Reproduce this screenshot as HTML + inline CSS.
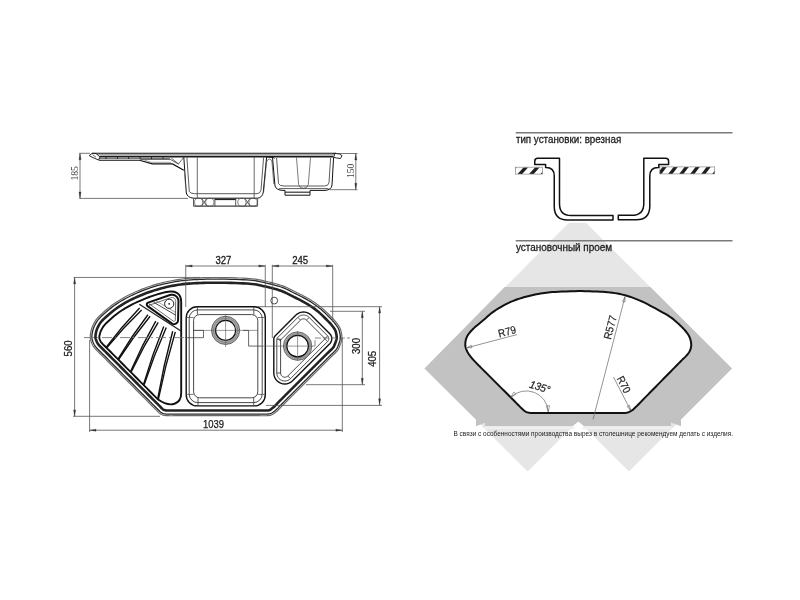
<!DOCTYPE html>
<html><head><meta charset="utf-8"><style>
html,body{margin:0;padding:0;background:#fff;width:800px;height:600px;overflow:hidden}
svg{display:block;filter:grayscale(1)}
</style></head><body>
<svg width="800" height="600" viewBox="0 0 800 600">
<rect width="800" height="600" fill="#fff"/>
<polygon points="569,222.8 586,222.8 732,368.5 629,471.6 578.3,421 527.6,471.6 424.5,368.5" fill="#e6e6e6" stroke="none" stroke-width="1" />
<polygon points="504.7,287.1 650.3,287.1 732,368.5 681,419.5 681,426.3 671,422.5 671,426.3 584.3,426.3 578.3,421.5 572.3,426.3 485,426.3 485,422.8 476,426.3 476,419.5 424.5,368.5" fill="#c2c2c2" stroke="none" stroke-width="1" />
<polygon points="485,426.3 572.3,426.3 575.3,429.3 581.3,429.3 584.3,426.3 671,426.3 671,429.3 485,429.3" fill="#f0f0f0" stroke="none" stroke-width="1" />
<path d="M578.5 291.1 L581.67 291.09 L584.57 291.13 L587.28 291.19 L589.87 291.29 L592.42 291.39 L595 291.5 L597.59 291.6 L600.11 291.69 L602.59 291.79 L605.06 291.93 L607.52 292.13 L610 292.4 L612.5 292.74 L615 293.13 L617.5 293.57 L620 294.08 L622.5 294.65 L625 295.3 L627.5 296.02 L630 296.8 L632.5 297.66 L635 298.57 L637.5 299.56 L640 300.6 L642.5 301.72 L645 302.93 L647.5 304.19 L650 305.51 L652.5 306.85 L655 308.2 L657.57 309.59 L660.22 311.03 L662.88 312.51 L665.44 313.98 L667.85 315.42 L670 316.8 L671.88 318.12 L673.54 319.41 L675.03 320.67 L676.41 321.9 L677.71 323.11 L679 324.3 L680.26 325.47 L681.44 326.62 L682.56 327.74 L683.61 328.85 L684.59 329.93 L685.5 331 L686.34 332.03 L687.1 333.01 L687.8 333.98 L688.43 334.95 L689 335.95 L689.5 337 L689.95 338.12 L690.34 339.3 L690.66 340.5 L690.92 341.7 L691.1 342.88 L691.2 344 L691.22 345.07 L691.15 346.11 L691.01 347.12 L690.8 348.11 L690.53 349.07 L690.2 350 L689.83 350.88 L689.4 351.7 L688.91 352.5 L688.36 353.3 L687.72 354.12 L687 355 L686.18 355.92 L685.26 356.87 L684.27 357.84 L683.21 358.84 L682.12 359.89 L681 361 L679.84 362.18 L678.61 363.42 L677.34 364.71 L676.06 366.03 L674.77 367.34 L673.5 368.63 L672.25 369.91 L671 371.18 L669.75 372.45 L668.5 373.72 L667.25 374.99 L666 376.27 L664.75 377.54 L663.5 378.81 L662.25 380.08 L661 381.36 L659.75 382.63 L658.5 383.9 L657.25 385.17 L656 386.44 L654.75 387.72 L653.5 388.99 L652.25 390.26 L651 391.53 L649.75 392.81 L648.5 394.08 L647.25 395.35 L646 396.62 L644.75 397.89 L643.5 399.17 L642.22 400.48 L640.91 401.84 L639.59 403.2 L638.31 404.51 L637.11 405.73 L636 406.8 L635.03 407.73 L634.19 408.54 L633.41 409.26 L632.65 409.9 L631.86 410.47 L631 411 L630.12 411.47 L629.29 411.87 L628.42 412.21 L627.46 412.49 L626.34 412.72 L625 412.9 L623.37 413.01 L621.51 413.04 L619.48 413.02 L617.38 412.97 L615.27 412.92 L613.25 412.9 L611.29 412.9 L609.33 412.9 L607.38 412.9 L605.42 412.9 L603.46 412.9 L601.5 412.9 L599.54 412.9 L597.58 412.9 L595.62 412.9 L593.67 412.9 L591.71 412.9 L589.75 412.9 L587.79 412.9 L585.83 412.9 L583.88 412.9 L581.92 412.9 L579.96 412.9 L578 412.9 L576.04 412.9 L574.08 412.9 L572.12 412.9 L570.17 412.9 L568.21 412.9 L566.25 412.9 L564.29 412.9 L562.33 412.9 L560.38 412.9 L558.42 412.9 L556.46 412.9 L554.5 412.9 L552.54 412.9 L550.58 412.9 L548.62 412.9 L546.67 412.9 L544.71 412.9 L542.75 412.9 L540.71 412.91 L538.58 412.94 L536.45 412.97 L534.42 412.98 L532.57 412.96 L531 412.9 L529.76 412.8 L528.79 412.68 L528 412.52 L527.32 412.33 L526.68 412.09 L526 411.8 L525.35 411.49 L524.81 411.17 L524.3 410.8 L523.76 410.34 L523.12 409.76 L522.3 409 L521.27 408.03 L520.09 406.86 L518.8 405.56 L517.46 404.2 L516.12 402.83 L514.83 401.53 L513.59 400.29 L512.34 399.04 L511.1 397.8 L509.86 396.56 L508.61 395.31 L507.37 394.07 L506.12 392.82 L504.88 391.58 L503.63 390.33 L502.39 389.09 L501.14 387.84 L499.9 386.6 L498.66 385.36 L497.41 384.11 L496.17 382.87 L494.92 381.62 L493.68 380.38 L492.43 379.13 L491.19 377.89 L489.94 376.64 L488.7 375.4 L487.46 374.16 L486.21 372.91 L484.97 371.67 L483.7 370.4 L482.4 369.12 L481.11 367.84 L479.84 366.57 L478.63 365.35 L477.5 364.2 L476.45 363.12 L475.46 362.09 L474.52 361.1 L473.63 360.15 L472.8 359.22 L472 358.3 L471.25 357.4 L470.56 356.54 L469.91 355.71 L469.3 354.88 L468.73 354.05 L468.2 353.2 L467.7 352.33 L467.23 351.43 L466.79 350.53 L466.41 349.65 L466.07 348.8 L465.8 348 L465.59 347.28 L465.44 346.61 L465.35 345.99 L465.3 345.36 L465.29 344.71 L465.3 344 L465.34 343.22 L465.41 342.41 L465.51 341.56 L465.66 340.7 L465.85 339.84 L466.1 339 L466.38 338.18 L466.68 337.39 L467.03 336.59 L467.45 335.77 L467.97 334.91 L468.6 334 L469.34 333.04 L470.16 332.04 L471.08 331.01 L472.1 329.93 L473.24 328.8 L474.5 327.6 L475.95 326.3 L477.6 324.89 L479.37 323.43 L481.16 321.96 L482.9 320.53 L484.5 319.2 L485.9 317.99 L487.15 316.85 L488.34 315.76 L489.57 314.68 L490.93 313.57 L492.5 312.4 L494.32 311.13 L496.33 309.78 L498.47 308.41 L500.67 307.05 L502.86 305.77 L505 304.6 L507.08 303.55 L509.17 302.59 L511.25 301.69 L513.33 300.85 L515.42 300.06 L517.5 299.3 L519.58 298.59 L521.67 297.93 L523.75 297.33 L525.83 296.76 L527.92 296.22 L530 295.7 L532.08 295.21 L534.17 294.74 L536.25 294.31 L538.33 293.9 L540.42 293.53 L542.5 293.2 L544.46 292.91 L546.26 292.66 L548.06 292.44 L550.02 292.25 L552.28 292.07 L555 291.9 L558.36 291.72 L562.28 291.55 L566.5 291.39 L570.78 291.26 L574.86 291.16 Z" fill="#fff" stroke="#111" stroke-width="2" stroke-linejoin="round"/>
<line x1="466.8" y1="347.8" x2="517" y2="334.6" stroke="#666" stroke-width="0.7" />
<polygon points="466.8,347.8 471.3,345.27 471.97,347.78" fill="none" stroke="#666" stroke-width="0.6" />
<text x="508" y="335.2" font-size="10.8" fill="#222" text-anchor="middle" font-family='"Liberation Sans", sans-serif' textLength="18" lengthAdjust="spacingAndGlyphs" transform="rotate(-15 508 335.2)" stroke="#222" stroke-width="0.2">R79</text>
<line x1="625" y1="296.8" x2="593" y2="419.5" stroke="#666" stroke-width="0.7" />
<polygon points="625,296.8 625,301.97 622.48,301.31" fill="none" stroke="#666" stroke-width="0.6" />
<text x="613.8" y="328.3" font-size="10.8" fill="#222" text-anchor="middle" font-family='"Liberation Sans", sans-serif' textLength="24" lengthAdjust="spacingAndGlyphs" transform="rotate(-75.4 613.8 328.3)" stroke="#222" stroke-width="0.2">R577</text>
<line x1="613.5" y1="377" x2="630.6" y2="410.3" stroke="#666" stroke-width="0.7" />
<polygon points="630.6,410.3 627.16,406.45 629.47,405.26" fill="none" stroke="#666" stroke-width="0.6" />
<text x="620.5" y="386.3" font-size="10.8" fill="#222" text-anchor="middle" font-family='"Liberation Sans", sans-serif' textLength="17.5" lengthAdjust="spacingAndGlyphs" transform="rotate(62.8 620.5 386.3)" stroke="#222" stroke-width="0.2">R70</text>
<path d="M510.74 397.34 A 22 22 0 0 1 548.27 411.75" fill="none" stroke="#666" stroke-width="0.7" />
<polygon points="510.74,397.34 513.85,391.97 516.12,394.23" fill="none" stroke="#666" stroke-width="0.6" />
<polygon points="548.27,411.75 546.36,405.84 549.55,405.67" fill="none" stroke="#666" stroke-width="0.6" />
<text x="538.8" y="390.5" font-size="10.8" fill="#222" text-anchor="middle" font-family='"Liberation Sans", sans-serif' textLength="21" lengthAdjust="spacingAndGlyphs" transform="rotate(17 538.8 390.5)" font-style="italic" stroke="#222" stroke-width="0.25">135°</text>
<text x="453.5" y="435.7" font-size="6.5" fill="#222" text-anchor="start" font-family='"Liberation Sans", sans-serif' textLength="279.5" lengthAdjust="spacingAndGlyphs">В связи с особенностями производства вырез в столешнице рекомендуем делать с изделия.</text>
<line x1="515.75" y1="132.75" x2="732.5" y2="132.75" stroke="#7a7a7a" stroke-width="1.5" />
<text x="515.9" y="142.9" font-size="10.5" fill="#1e1e1e" text-anchor="start" font-family='"Liberation Sans", sans-serif' textLength="105.3" lengthAdjust="spacingAndGlyphs" stroke="#1e1e1e" stroke-width="0.3">тип установки: врезная</text>
<line x1="515.75" y1="240.8" x2="732.5" y2="240.8" stroke="#7a7a7a" stroke-width="1.5" />
<text x="515.9" y="250.9" font-size="10.5" fill="#1e1e1e" text-anchor="start" font-family='"Liberation Sans", sans-serif' textLength="96.3" lengthAdjust="spacingAndGlyphs" stroke="#1e1e1e" stroke-width="0.3">установочный проем</text>
<clipPath id="hc515"><rect x="515.4" y="167.2" width="27.2" height="6.9"/></clipPath>
<rect x="515.4" y="167.2" width="27.2" height="6.9" fill="#fff"/>
<g clip-path="url(#hc515)"><polygon points="506,174.1 510.6,174.1 516.8,167.2 512.2,167.2" fill="#1e1e1e"/><polygon points="517.5,174.1 522.1,174.1 528.3,167.2 523.7,167.2" fill="#1e1e1e"/><polygon points="529,174.1 533.6,174.1 539.8,167.2 535.2,167.2" fill="#1e1e1e"/><polygon points="540.5,174.1 545.1,174.1 551.3,167.2 546.7,167.2" fill="#1e1e1e"/></g>
<rect x="515.4" y="167.2" width="27.2" height="6.9" fill="none" stroke="#8a8a8a" stroke-width="0.7"/>
<clipPath id="hc659"><rect x="659.8" y="166.9" width="54.9" height="7"/></clipPath>
<rect x="659.8" y="166.9" width="54.9" height="7" fill="#fff"/>
<g clip-path="url(#hc659)"><polygon points="657.2,173.9 661.4,173.9 666.8,166.9 662.6,166.9" fill="#1e1e1e"/><polygon points="668.2,173.9 672.4,173.9 677.8,166.9 673.6,166.9" fill="#1e1e1e"/><polygon points="679.2,173.9 683.4,173.9 688.8,166.9 684.6,166.9" fill="#1e1e1e"/><polygon points="690.2,173.9 694.4,173.9 699.8,166.9 695.6,166.9" fill="#1e1e1e"/><polygon points="701.2,173.9 705.4,173.9 710.8,166.9 706.6,166.9" fill="#1e1e1e"/><polygon points="712.2,173.9 716.4,173.9 721.8,166.9 717.6,166.9" fill="#1e1e1e"/></g>
<rect x="659.8" y="166.9" width="54.9" height="7" fill="none" stroke="#8a8a8a" stroke-width="0.7"/>
<path d="M534.75 164.6 L534.75 161.2 Q534.75 158.2 537.75 158.2 L559.5 158.2 L559.5 203.8 Q559.5 215.6 571 215.6 L613 215.6 L613 220 L567.5 220 Q554.25 220 554.25 206.5 L554.25 176 Q554.25 167.6 546 167.6 L545.6 167.6 L545.6 164.6 Z" fill="#fff" stroke="#111" stroke-width="1.5" stroke-linejoin="round"/>
<path d="M668.6 164.6 L668.6 161.2 Q668.6 158.2 665.6 158.2 L643.8 158.2 L643.8 203.4 Q643.8 215.3 631.8 215.3 L618.3 215.3 L618.3 219.8 L636.3 219.8 Q649.8 219.8 649.8 206 L649.8 176 Q649.8 167.4 658.2 167.4 L658.8 167.4 L658.8 164.6 Z" fill="#fff" stroke="#111" stroke-width="1.5" stroke-linejoin="round"/>
<path d="M89.6 338 L89.54 336.62 L89.61 335.21 L89.78 333.79 L90.01 332.38 L90.3 331 L90.62 329.68 L90.98 328.41 L91.42 327.15 L91.95 325.86 L92.6 324.5 L93.29 323.12 L94.01 321.75 L94.87 320.31 L95.99 318.75 L97.5 317 L99.51 314.95 L101.95 312.64 L104.64 310.24 L107.38 307.91 L110 305.8 L112.5 303.94 L115 302.21 L117.5 300.59 L120 299.06 L122.5 297.6 L125 296.21 L127.5 294.92 L130 293.7 L132.5 292.53 L135 291.4 L137.5 290.3 L140 289.26 L142.5 288.26 L145 287.3 L147.5 286.4 L150 285.55 L152.5 284.75 L155 283.99 L157.5 283.28 L160 282.6 L162.5 281.96 L165 281.36 L167.5 280.8 L170 280.28 L172.5 279.8 L174.96 279.36 L177.38 278.96 L179.82 278.61 L182.34 278.29 L185 278 L187.82 277.75 L190.77 277.55 L193.81 277.37 L196.9 277.23 L200 277.1 L203.01 276.99 L205.94 276.9 L208.98 276.83 L212.27 276.8 L216 276.8 L220.43 276.84 L225.46 276.91 L230.66 277.02 L235.65 277.15 L240 277.3 L243.66 277.47 L246.89 277.65 L249.79 277.87 L252.46 278.11 L255 278.4 L257.32 278.74 L259.36 279.12 L261.24 279.53 L263.08 279.96 L265 280.4 L267 280.84 L269 281.29 L271 281.76 L273 282.26 L275 282.8 L277 283.36 L279 283.94 L281 284.56 L283 285.24 L285 286 L287.02 286.88 L289.05 287.86 L291.07 288.89 L293.06 289.92 L295 290.9 L296.86 291.81 L298.66 292.69 L300.43 293.55 L302.2 294.45 L304 295.4 L305.84 296.4 L307.7 297.43 L309.57 298.5 L311.44 299.62 L313.3 300.8 L315.15 302.04 L316.99 303.32 L318.82 304.67 L320.66 306.09 L322.5 307.6 L324.4 309.28 L326.37 311.12 L328.3 312.99 L330.11 314.79 L331.7 316.4 L333.04 317.77 L334.18 318.99 L335.19 320.11 L336.11 321.19 L337 322.3 L337.86 323.41 L338.65 324.5 L339.38 325.57 L340.03 326.66 L340.6 327.8 L341.09 329.01 L341.49 330.28 L341.82 331.56 L342.09 332.81 L342.3 334 L342.46 335.1 L342.57 336.15 L342.61 337.16 L342.59 338.17 L342.5 339.2 L342.33 340.23 L342.09 341.26 L341.79 342.29 L341.42 343.36 L341 344.5 L340.56 345.72 L340.09 347 L339.55 348.32 L338.87 349.66 L338 351 L336.87 352.35 L335.53 353.72 L334.06 355.11 L332.56 356.49 L331.12 357.88 L329.75 359.25 L328.38 360.62 L327 362 L325.62 363.38 L324.25 364.75 L322.88 366.12 L321.5 367.5 L320.12 368.88 L318.75 370.25 L317.38 371.62 L316 373 L314.62 374.38 L313.25 375.75 L311.88 377.12 L310.5 378.5 L309.12 379.88 L307.75 381.25 L306.38 382.62 L305 384 L303.62 385.38 L302.25 386.75 L300.88 388.12 L299.5 389.5 L298.12 390.88 L296.75 392.25 L295.38 393.62 L294 395 L292.62 396.38 L291.25 397.75 L289.88 399.12 L288.44 400.55 L286.96 402.03 L285.5 403.49 L284.15 404.83 L283 406 L282.1 406.93 L281.41 407.69 L280.82 408.33 L280.25 408.95 L279.6 409.6 L278.87 410.31 L278.12 411.02 L277.35 411.71 L276.58 412.38 L275.8 413 L275.03 413.58 L274.25 414.14 L273.47 414.66 L272.65 415.12 L271.8 415.5 L270.97 415.8 L270.18 416.02 L269.32 416.18 L268.3 416.3 L267 416.4 L265.35 416.46 L263.42 416.46 L261.33 416.44 L259.2 416.41 L257.15 416.4 L255.18 416.4 L253.21 416.4 L251.24 416.4 L249.27 416.4 L247.3 416.4 L245.33 416.4 L243.36 416.4 L241.39 416.4 L239.42 416.4 L237.45 416.4 L235.48 416.4 L233.51 416.4 L231.54 416.4 L229.57 416.4 L227.6 416.4 L225.63 416.4 L223.66 416.4 L221.69 416.4 L219.72 416.4 L217.75 416.4 L215.78 416.4 L213.81 416.4 L211.84 416.4 L209.87 416.4 L207.9 416.4 L205.93 416.4 L203.96 416.4 L201.99 416.4 L200.02 416.4 L198.05 416.4 L196.08 416.4 L194.11 416.4 L192.14 416.4 L190.17 416.4 L188.2 416.4 L186.23 416.4 L184.26 416.4 L182.29 416.4 L180.32 416.4 L178.35 416.4 L176.3 416.41 L174.16 416.42 L172.07 416.43 L170.14 416.43 L168.5 416.4 L167.22 416.37 L166.23 416.34 L165.4 416.28 L164.63 416.18 L163.8 416 L162.92 415.76 L162.06 415.47 L161.23 415.12 L160.41 414.7 L159.6 414.2 L158.88 413.66 L158.23 413.08 L157.57 412.42 L156.8 411.61 L155.8 410.6 L154.52 409.33 L153.03 407.84 L151.42 406.21 L149.78 404.55 L148.2 402.96 L146.68 401.44 L145.16 399.91 L143.64 398.38 L142.12 396.85 L140.6 395.33 L139.08 393.8 L137.56 392.27 L136.04 390.74 L134.52 389.21 L133 387.69 L131.48 386.16 L129.96 384.63 L128.44 383.11 L126.92 381.58 L125.4 380.05 L123.88 378.52 L122.36 377 L120.84 375.47 L119.32 373.94 L117.8 372.41 L116.28 370.88 L114.76 369.36 L113.24 367.83 L111.72 366.3 L110.2 364.77 L108.68 363.25 L107.16 361.72 L105.64 360.19 L104.12 358.66 L102.6 357.14 L101.01 355.57 L99.36 353.96 L97.74 352.37 L96.25 350.86 L95 349.5 L94.03 348.36 L93.27 347.38 L92.66 346.48 L92.12 345.55 L91.6 344.5 L91.07 343.3 L90.57 342.03 L90.14 340.71 L89.8 339.36 Z" fill="#fff" stroke="none" stroke-width="0" />
<path d="M158.1 399.59 L156.45 397.93 L154.87 396.34 L153.34 394.8 L151.82 393.28 L150.3 391.75 L148.78 390.22 L147.26 388.69 L145.74 387.17 L144.22 385.64 L142.7 384.11 L141.18 382.58 L139.66 381.06 L138.14 379.53 L136.62 378 L135.1 376.47 L133.58 374.95 L132.06 373.42 L130.54 371.89 L129.02 370.36 L127.5 368.84 L125.98 367.31 L124.46 365.78 L122.94 364.25 L121.42 362.73 L119.9 361.2 L118.38 359.67 L116.86 358.14 L115.34 356.62 L113.82 355.09 L112.3 353.56 L110.78 352.03 L109.24 350.48 L107.6 348.86 L105.93 347.24 L104.37 345.71 L103.05 344.36 L102.03 343.26 L101.31 342.41 L100.86 341.83 L100.62 341.49 L100.42 341.13 L100.13 340.5 L99.81 339.65 L99.54 338.82 L99.36 338.07 L99.27 337.47 L99.27 337.07 L99.31 336.65 L99.41 336.02 L99.57 335.19 L99.8 334.22 L100.08 333.19 L100.37 332.25 L100.65 331.46 L100.95 330.76 L101.31 330.04 L101.85 329.05 L102.52 327.85 L103.11 326.85 L103.62 326.11 L104.27 325.32 L105.28 324.2 L106.93 322.52 L109.13 320.45 L111.61 318.23 L114.14 316.07 L116.5 314.18 L118.68 312.54 L120.89 311.02 L123.14 309.57 L125.44 308.16 L127.75 306.81 L130.01 305.55 L132.26 304.39 L134.57 303.26 L136.93 302.16 L139.31 301.08 L141.68 300.05 L144.02 299.07 L146.35 298.13 L148.69 297.24 L151.01 296.4 L153.33 295.61 L155.65 294.87 L157.99 294.16 L160.34 293.49 L162.7 292.85 L165.05 292.25 C175.05 290.05 181.2 292.75 181.2 302.25 L181.2 393 C181.2 404 171 408.5 158.1 399.59" fill="none" stroke="#111" stroke-width="1.9" stroke-linejoin="round"/>
<path d="M141.61 309.9 Q122.99 327.75 106.76 347.73" fill="none" stroke="#111" stroke-width="1.4" />
<path d="M139.59 308.1 Q121.72 326.63 106.24 347.27" fill="none" stroke="#111" stroke-width="1.4" />
<path d="M150.11 316.27 Q133.04 336.97 118.59 359.5" fill="none" stroke="#111" stroke-width="1.4" />
<path d="M147.89 314.73 Q131.64 335.99 118.01 359.1" fill="none" stroke="#111" stroke-width="1.4" />
<path d="M158.2 322.43 Q143.34 346.3 131.31 371.66" fill="none" stroke="#111" stroke-width="1.4" />
<path d="M155.8 321.17 Q141.83 345.51 130.69 371.34" fill="none" stroke="#111" stroke-width="1.4" />
<path d="M166.27 327.47 Q153.7 355.59 144.13 384.82" fill="none" stroke="#111" stroke-width="1.4" />
<path d="M163.73 326.53 Q152.1 355.01 143.47 384.58" fill="none" stroke="#111" stroke-width="1.4" />
<path d="M175.31 331.91 Q165.27 365.28 158.34 399.38" fill="none" stroke="#111" stroke-width="1.4" />
<path d="M172.69 331.29 Q163.62 364.89 157.66 399.22" fill="none" stroke="#111" stroke-width="1.4" />
<line x1="139.3" y1="304.3" x2="181" y2="331" stroke="#222" stroke-width="1.3" />
<path d="M147.64 306.15 L147.24 305.77 L146.96 305.31 L146.82 304.78 L146.82 304.23 L146.97 303.71 L147.26 303.25 L147.66 302.88 L148.15 302.63 L169.86 295.08 L171.38 294.74 L172.95 294.79 L174.45 295.2 L175.82 295.96 L176.96 297.03 L177.82 298.33 L178.34 299.81 L178.49 301.36 L178.07 320.23 L177.9 321.3 L177.45 322.28 L176.75 323.11 L175.86 323.72 L174.84 324.07 L173.76 324.13 L172.7 323.9 L171.74 323.39 Z" fill="#fff" stroke="#111" stroke-width="2" />
<path d="M149.27 303.87 L149.43 304.02 L149.54 304.21 L149.6 304.42 L149.6 304.63 L149.54 304.84 L149.42 305.03 L149.26 305.18 L149.07 305.27 L170.76 297.73 L171.65 297.53 L172.53 297.56 L173.39 297.79 L174.17 298.22 L174.82 298.83 L175.31 299.57 L175.6 300.41 L175.69 301.32 L175.27 320.15 L175.22 320.49 L175.08 320.78 L174.87 321.03 L174.61 321.21 L174.3 321.32 L173.98 321.34 L173.66 321.27 L173.36 321.11 Z" fill="none" stroke="#444" stroke-width="0.8" />
<line x1="153.5" y1="302.2" x2="176" y2="315.3" stroke="#333" stroke-width="0.9" />
<line x1="155.5" y1="300.6" x2="176" y2="312.6" stroke="#666" stroke-width="0.6" />
<circle cx="169.2" cy="303.8" r="4.6" fill="#fff" stroke="#222" stroke-width="1"/>
<circle cx="169.2" cy="303.8" r="0.9" fill="#222"/>
<path d="M90.3 337.93 L90.24 336.63 L90.31 335.27 L90.47 333.89 L90.7 332.51 L90.98 331.15 L91.29 329.86 L91.65 328.62 L92.07 327.4 L92.59 326.14 L93.23 324.81 L93.92 323.44 L94.62 322.09 L95.45 320.7 L96.54 319.19 L98.01 317.48 L100 315.45 L102.43 313.16 L105.1 310.77 L107.82 308.45 L110.43 306.35 L112.91 304.5 L115.39 302.79 L117.87 301.18 L120.36 299.66 L122.85 298.21 L125.33 296.83 L127.81 295.54 L130.3 294.33 L132.79 293.17 L135.28 292.04 L137.78 290.95 L140.27 289.9 L142.75 288.91 L145.24 287.96 L147.73 287.06 L150.22 286.21 L152.71 285.41 L155.2 284.66 L157.69 283.95 L160.18 283.28 L162.67 282.64 L165.16 282.04 L167.65 281.48 L170.14 280.97 L172.63 280.49 L175.08 280.05 L177.49 279.66 L179.91 279.3 L182.42 278.98 L185.07 278.7 L187.88 278.45 L190.82 278.24 L193.84 278.07 L196.93 277.93 L200.03 277.8 L203.03 277.69 L205.96 277.6 L208.99 277.53 L212.28 277.5 L216 277.5 L220.42 277.54 L225.44 277.61 L230.65 277.72 L235.63 277.85 L239.97 278 L243.62 278.17 L246.84 278.35 L249.73 278.56 L252.39 278.81 L254.91 279.09 L257.21 279.43 L259.22 279.8 L261.09 280.21 L262.92 280.64 L264.85 281.08 L266.85 281.52 L268.84 281.97 L270.84 282.44 L272.82 282.94 L274.81 283.47 L276.81 284.03 L278.8 284.61 L280.78 285.23 L282.76 285.9 L284.74 286.65 L286.72 287.51 L288.74 288.48 L290.75 289.51 L292.74 290.54 L294.69 291.53 L296.55 292.44 L298.35 293.31 L300.11 294.18 L301.88 295.07 L303.67 296.02 L305.51 297.01 L307.36 298.04 L309.22 299.1 L311.07 300.21 L312.92 301.39 L314.75 302.62 L316.58 303.89 L318.4 305.23 L320.23 306.64 L322.05 308.13 L323.93 309.8 L325.88 311.62 L327.81 313.49 L329.61 315.29 L331.2 316.89 L332.53 318.26 L333.67 319.46 L334.66 320.57 L335.57 321.64 L336.45 322.73 L337.3 323.84 L338.08 324.9 L338.79 325.94 L339.41 327 L339.96 328.09 L340.43 329.25 L340.82 330.47 L341.14 331.72 L341.4 332.95 L341.61 334.11 L341.77 335.19 L341.87 336.2 L341.91 337.17 L341.89 338.13 L341.81 339.11 L341.65 340.1 L341.42 341.08 L341.12 342.08 L340.76 343.13 L340.34 344.26 L339.9 345.48 L339.44 346.74 L338.91 348.02 L338.27 349.31 L337.44 350.58 L336.35 351.88 L335.04 353.22 L333.58 354.6 L332.08 355.98 L330.64 357.38 L329.26 358.76 L327.88 360.13 L326.51 361.51 L325.13 362.88 L323.76 364.26 L322.38 365.63 L321.01 367.01 L319.63 368.38 L318.26 369.76 L316.88 371.13 L315.51 372.51 L314.13 373.88 L312.76 375.26 L311.38 376.63 L310.01 378.01 L308.63 379.38 L307.26 380.76 L305.88 382.13 L304.51 383.51 L303.13 384.88 L301.76 386.26 L300.38 387.63 L299.01 389.01 L297.63 390.38 L296.26 391.76 L294.88 393.13 L293.51 394.51 L292.13 395.88 L290.76 397.26 L289.38 398.63 L287.95 400.06 L286.46 401.54 L285.01 402.99 L283.66 404.34 L282.5 405.51 L281.59 406.45 L280.89 407.21 L280.31 407.86 L279.75 408.46 L279.11 409.1 L278.38 409.8 L277.64 410.5 L276.89 411.19 L276.13 411.84 L275.37 412.45 L274.61 413.02 L273.86 413.57 L273.1 414.06 L272.34 414.49 L271.54 414.85 L270.76 415.13 L270.02 415.34 L269.22 415.49 L268.23 415.61 L266.96 415.7 L265.34 415.76 L263.43 415.76 L261.34 415.74 L259.21 415.71 L257.15 415.7 L255.18 415.7 L253.21 415.7 L251.24 415.7 L249.27 415.7 L247.3 415.7 L245.33 415.7 L243.36 415.7 L241.39 415.7 L239.42 415.7 L237.45 415.7 L235.48 415.7 L233.51 415.7 L231.54 415.7 L229.57 415.7 L227.6 415.7 L225.63 415.7 L223.66 415.7 L221.69 415.7 L219.72 415.7 L217.75 415.7 L215.78 415.7 L213.81 415.7 L211.84 415.7 L209.87 415.7 L207.9 415.7 L205.93 415.7 L203.96 415.7 L201.99 415.7 L200.02 415.7 L198.05 415.7 L196.08 415.7 L194.11 415.7 L192.14 415.7 L190.17 415.7 L188.2 415.7 L186.23 415.7 L184.26 415.7 L182.29 415.7 L180.32 415.7 L178.35 415.7 L176.29 415.71 L174.16 415.72 L172.07 415.73 L170.15 415.73 L168.51 415.7 L167.24 415.67 L166.26 415.64 L165.47 415.58 L164.75 415.49 L163.97 415.32 L163.13 415.09 L162.31 414.81 L161.52 414.48 L160.75 414.09 L159.99 413.62 L159.32 413.12 L158.72 412.58 L158.08 411.93 L157.3 411.12 L156.3 410.11 L155.02 408.84 L153.53 407.34 L151.92 405.72 L150.28 404.06 L148.7 402.47 L147.18 400.94 L145.66 399.41 L144.14 397.89 L142.62 396.36 L141.1 394.83 L139.58 393.3 L138.06 391.78 L136.54 390.25 L135.02 388.72 L133.5 387.19 L131.98 385.67 L130.46 384.14 L128.94 382.61 L127.42 381.08 L125.9 379.56 L124.38 378.03 L122.86 376.5 L121.34 374.97 L119.82 373.45 L118.3 371.92 L116.78 370.39 L115.26 368.86 L113.74 367.34 L112.22 365.81 L110.7 364.28 L109.18 362.75 L107.66 361.23 L106.14 359.7 L104.62 358.17 L103.09 356.64 L101.5 355.07 L99.85 353.46 L98.23 351.87 L96.76 350.38 L95.52 349.04 L94.57 347.91 L93.84 346.97 L93.25 346.11 L92.74 345.22 L92.23 344.2 L91.71 343.03 L91.23 341.8 L90.81 340.52 L90.49 339.22 Z" fill="none" stroke="#6a6a6a" stroke-width="1.2" stroke-linejoin="round"/>
<path d="M91.89 337.78 L91.84 336.63 L91.9 335.4 L92.05 334.11 L92.27 332.8 L92.54 331.5 L92.84 330.27 L93.17 329.1 L93.57 327.96 L94.05 326.79 L94.66 325.52 L95.34 324.17 L96.01 322.88 L96.79 321.58 L97.79 320.18 L99.19 318.56 L101.12 316.59 L103.51 314.34 L106.15 311.97 L108.85 309.68 L111.41 307.62 L113.84 305.8 L116.28 304.12 L118.72 302.54 L121.18 301.04 L123.64 299.6 L126.09 298.24 L128.53 296.97 L130.99 295.77 L133.46 294.62 L135.94 293.5 L138.41 292.42 L140.87 291.38 L143.34 290.4 L145.8 289.46 L148.26 288.57 L150.72 287.73 L153.18 286.94 L155.65 286.2 L158.12 285.49 L160.59 284.82 L163.05 284.19 L165.52 283.6 L167.99 283.05 L170.45 282.54 L172.92 282.06 L175.35 281.63 L177.73 281.24 L180.13 280.89 L182.61 280.57 L185.22 280.29 L188 280.05 L190.92 279.84 L193.93 279.67 L197 279.52 L200.09 279.4 L203.09 279.29 L206 279.2 L209.01 279.13 L212.28 279.1 L215.99 279.1 L220.4 279.14 L225.42 279.21 L230.61 279.32 L235.58 279.45 L239.91 279.6 L243.54 279.76 L246.74 279.95 L249.6 280.16 L252.23 280.4 L254.71 280.68 L256.95 281.01 L258.9 281.37 L260.73 281.77 L262.56 282.2 L264.5 282.64 L266.5 283.09 L268.48 283.53 L270.46 284 L272.42 284.49 L274.39 285.02 L276.37 285.57 L278.34 286.14 L280.29 286.75 L282.22 287.4 L284.13 288.13 L286.06 288.97 L288.03 289.92 L290.02 290.93 L292.02 291.97 L293.97 292.96 L295.85 293.88 L297.65 294.75 L299.4 295.61 L301.14 296.49 L302.91 297.43 L304.74 298.42 L306.58 299.43 L308.41 300.48 L310.23 301.57 L312.04 302.73 L313.85 303.94 L315.65 305.19 L317.44 306.51 L319.23 307.89 L321.01 309.35 L322.86 310.98 L324.78 312.78 L326.69 314.63 L328.48 316.42 L330.06 318.01 L331.38 319.36 L332.49 320.55 L333.46 321.62 L334.34 322.66 L335.19 323.72 L336.02 324.8 L336.77 325.82 L337.44 326.8 L338.01 327.77 L338.5 328.74 L338.92 329.79 L339.28 330.91 L339.58 332.09 L339.83 333.26 L340.03 334.37 L340.18 335.39 L340.28 336.32 L340.31 337.19 L340.3 338.04 L340.22 338.91 L340.08 339.79 L339.87 340.67 L339.6 341.59 L339.26 342.59 L338.84 343.71 L338.4 344.93 L337.95 346.16 L337.46 347.36 L336.88 348.51 L336.15 349.63 L335.17 350.81 L333.92 352.08 L332.49 353.43 L330.98 354.82 L329.52 356.23 L328.12 357.62 L326.75 359 L325.37 360.37 L324 361.75 L322.62 363.12 L321.25 364.5 L319.87 365.87 L318.5 367.25 L317.12 368.62 L315.75 370 L314.37 371.37 L313 372.75 L311.62 374.12 L310.25 375.5 L308.87 376.87 L307.5 378.25 L306.12 379.62 L304.75 381 L303.37 382.37 L302 383.75 L300.62 385.12 L299.25 386.5 L297.87 387.87 L296.5 389.25 L295.12 390.62 L293.75 392 L292.37 393.37 L291 394.75 L289.62 396.12 L288.25 397.5 L286.82 398.92 L285.33 400.4 L283.87 401.86 L282.52 403.21 L281.35 404.39 L280.43 405.35 L279.71 406.13 L279.13 406.77 L278.59 407.35 L277.99 407.96 L277.28 408.65 L276.55 409.33 L275.83 409.99 L275.11 410.61 L274.39 411.18 L273.66 411.73 L272.95 412.25 L272.27 412.69 L271.62 413.06 L270.94 413.37 L270.27 413.61 L269.66 413.78 L268.98 413.91 L268.08 414.01 L266.88 414.1 L265.31 414.16 L263.43 414.16 L261.36 414.14 L259.22 414.11 L257.16 414.1 L255.18 414.1 L253.21 414.1 L251.24 414.1 L249.27 414.1 L247.3 414.1 L245.33 414.1 L243.36 414.1 L241.39 414.1 L239.42 414.1 L237.45 414.1 L235.48 414.1 L233.51 414.1 L231.54 414.1 L229.57 414.1 L227.6 414.1 L225.63 414.1 L223.66 414.1 L221.69 414.1 L219.72 414.1 L217.75 414.1 L215.78 414.1 L213.81 414.1 L211.84 414.1 L209.87 414.1 L207.9 414.1 L205.93 414.1 L203.96 414.1 L201.99 414.1 L200.02 414.1 L198.05 414.1 L196.08 414.1 L194.11 414.1 L192.14 414.1 L190.17 414.1 L188.2 414.1 L186.23 414.1 L184.26 414.1 L182.29 414.1 L180.32 414.1 L178.35 414.1 L176.29 414.11 L174.15 414.12 L172.07 414.13 L170.16 414.13 L168.55 414.1 L167.29 414.07 L166.34 414.04 L165.63 413.99 L165.02 413.91 L164.35 413.77 L163.6 413.56 L162.88 413.32 L162.2 413.03 L161.54 412.69 L160.89 412.3 L160.33 411.88 L159.82 411.42 L159.22 410.81 L158.44 410 L157.43 408.97 L156.15 407.7 L154.66 406.21 L153.06 404.59 L151.41 402.93 L149.83 401.34 L148.31 399.81 L146.79 398.29 L145.27 396.76 L143.75 395.23 L142.23 393.7 L140.71 392.18 L139.19 390.65 L137.67 389.12 L136.15 387.59 L134.63 386.07 L133.11 384.54 L131.59 383.01 L130.07 381.48 L128.55 379.96 L127.03 378.43 L125.51 376.9 L123.99 375.37 L122.47 373.85 L120.95 372.32 L119.43 370.79 L117.91 369.26 L116.39 367.74 L114.87 366.21 L113.35 364.68 L111.83 363.15 L110.31 361.63 L108.79 360.1 L107.27 358.57 L105.75 357.04 L104.22 355.51 L102.62 353.93 L100.97 352.31 L99.36 350.74 L97.91 349.27 L96.72 347.97 L95.81 346.9 L95.13 346.02 L94.61 345.26 L94.15 344.47 L93.68 343.52 L93.19 342.42 L92.74 341.26 L92.35 340.08 L92.06 338.91 Z" fill="none" stroke="#2a2a2a" stroke-width="1.3" stroke-linejoin="round"/>
<path d="M95.47 337.43 L95.44 336.64 L95.49 335.7 L95.62 334.62 L95.81 333.47 L96.06 332.29 L96.32 331.18 L96.61 330.19 L96.93 329.24 L97.33 328.26 L97.89 327.1 L98.54 325.81 L99.15 324.64 L99.79 323.57 L100.61 322.42 L101.83 321.01 L103.64 319.17 L105.95 316.99 L108.51 314.69 L111.14 312.45 L113.62 310.46 L115.94 308.73 L118.28 307.11 L120.64 305.59 L123.03 304.13 L125.42 302.73 L127.79 301.41 L130.15 300.19 L132.54 299.02 L134.96 297.89 L137.4 296.79 L139.83 295.73 L142.24 294.72 L144.65 293.75 L147.05 292.84 L149.46 291.97 L151.85 291.15 L154.25 290.38 L156.66 289.65 L159.08 288.96 L161.5 288.31 L163.92 287.69 L166.33 287.11 L168.75 286.57 L171.16 286.07 L173.57 285.6 L175.96 285.18 L178.28 284.79 L180.62 284.45 L183.03 284.15 L185.57 283.87 L188.29 283.63 L191.15 283.43 L194.12 283.27 L197.16 283.12 L200.23 283 L203.21 282.89 L206.1 282.8 L209.07 282.73 L212.3 282.7 L215.97 282.7 L220.36 282.74 L225.35 282.81 L230.53 282.92 L235.47 283.05 L239.77 283.2 L243.35 283.36 L246.5 283.54 L249.31 283.75 L251.86 283.98 L254.25 284.25 L256.36 284.56 L258.19 284.9 L259.93 285.28 L261.75 285.71 L263.71 286.16 L265.71 286.6 L267.68 287.04 L269.61 287.5 L271.52 287.97 L273.44 288.49 L275.38 289.04 L277.31 289.59 L279.18 290.17 L281 290.79 L282.77 291.46 L284.56 292.24 L286.43 293.14 L288.38 294.14 L290.37 295.17 L292.37 296.18 L294.27 297.11 L296.07 297.99 L297.8 298.84 L299.49 299.69 L301.22 300.6 L303.01 301.57 L304.81 302.57 L306.59 303.59 L308.34 304.63 L310.07 305.74 L311.81 306.91 L313.56 308.12 L315.28 309.38 L316.98 310.7 L318.67 312.09 L320.43 313.64 L322.3 315.39 L324.17 317.2 L325.93 318.96 L327.49 320.54 L328.78 321.86 L329.84 322.99 L330.75 323.99 L331.56 324.95 L332.36 325.95 L333.15 326.96 L333.83 327.9 L334.4 328.73 L334.85 329.5 L335.22 330.22 L335.53 331 L335.82 331.91 L336.08 332.91 L336.3 333.95 L336.48 334.96 L336.61 335.84 L336.69 336.58 L336.71 337.23 L336.7 337.84 L336.65 338.46 L336.54 339.09 L336.39 339.75 L336.17 340.5 L335.87 341.38 L335.46 342.47 L335.01 343.7 L334.59 344.86 L334.19 345.85 L333.76 346.71 L333.26 347.48 L332.5 348.39 L331.4 349.51 L330.03 350.8 L328.51 352.2 L327 353.66 L325.58 355.08 L324.2 356.45 L322.83 357.83 L321.45 359.2 L320.08 360.58 L318.7 361.95 L317.33 363.33 L315.95 364.7 L314.58 366.08 L313.2 367.45 L311.83 368.83 L310.45 370.2 L309.08 371.58 L307.7 372.95 L306.33 374.33 L304.95 375.7 L303.58 377.08 L302.2 378.45 L300.83 379.83 L299.45 381.2 L298.08 382.58 L296.7 383.95 L295.33 385.33 L293.95 386.7 L292.58 388.08 L291.2 389.45 L289.83 390.83 L288.45 392.2 L287.08 393.58 L285.71 394.95 L284.28 396.37 L282.79 397.85 L281.33 399.31 L279.97 400.67 L278.78 401.88 L277.81 402.88 L277.06 403.7 L276.48 404.34 L276 404.85 L275.46 405.4 L274.79 406.04 L274.1 406.69 L273.44 407.3 L272.82 407.84 L272.19 408.33 L271.52 408.84 L270.9 409.29 L270.39 409.62 L270 409.85 L269.59 410.03 L269.17 410.18 L268.84 410.27 L268.44 410.35 L267.74 410.43 L266.69 410.51 L265.25 410.56 L263.44 410.56 L261.4 410.54 L259.26 410.51 L257.17 410.5 L255.18 410.5 L253.21 410.5 L251.24 410.5 L249.27 410.5 L247.3 410.5 L245.33 410.5 L243.36 410.5 L241.39 410.5 L239.42 410.5 L237.45 410.5 L235.48 410.5 L233.51 410.5 L231.54 410.5 L229.57 410.5 L227.6 410.5 L225.63 410.5 L223.66 410.5 L221.69 410.5 L219.72 410.5 L217.75 410.5 L215.78 410.5 L213.81 410.5 L211.84 410.5 L209.87 410.5 L207.9 410.5 L205.93 410.5 L203.96 410.5 L201.99 410.5 L200.02 410.5 L198.05 410.5 L196.08 410.5 L194.11 410.5 L192.14 410.5 L190.17 410.5 L188.2 410.5 L186.23 410.5 L184.26 410.5 L182.29 410.5 L180.32 410.5 L178.34 410.5 L176.27 410.51 L174.13 410.52 L172.06 410.53 L170.19 410.53 L168.62 410.5 L167.39 410.47 L166.51 410.44 L165.98 410.41 L165.64 410.36 L165.2 410.27 L164.65 410.12 L164.15 409.95 L163.71 409.76 L163.3 409.56 L162.91 409.32 L162.61 409.09 L162.31 408.82 L161.8 408.3 L161.02 407.49 L159.97 406.43 L158.69 405.16 L157.22 403.68 L155.61 402.06 L153.97 400.4 L152.38 398.8 L150.86 397.27 L149.34 395.75 L147.82 394.22 L146.3 392.69 L144.78 391.16 L143.26 389.64 L141.74 388.11 L140.22 386.58 L138.7 385.05 L137.18 383.53 L135.66 382 L134.14 380.47 L132.62 378.94 L131.1 377.42 L129.58 375.89 L128.06 374.36 L126.54 372.83 L125.02 371.31 L123.5 369.78 L121.98 368.25 L120.46 366.72 L118.94 365.2 L117.42 363.67 L115.9 362.14 L114.38 360.61 L112.86 359.09 L111.34 357.56 L109.82 356.03 L108.3 354.5 L106.77 352.96 L105.15 351.36 L103.48 349.74 L101.9 348.19 L100.52 346.78 L99.41 345.58 L98.6 344.62 L98.03 343.9 L97.66 343.35 L97.33 342.78 L96.94 341.99 L96.51 341.03 L96.12 340.04 L95.81 339.09 L95.59 338.21 Z" fill="none" stroke="#222" stroke-width="2.6" stroke-linejoin="round"/>
<rect x="186.2" y="306.8" width="79.1" height="99.1" rx="11" fill="none" stroke="#111" stroke-width="1.4"/>
<rect x="189.2" y="309.9" width="73" height="92.7" rx="8.5" fill="none" stroke="#333" stroke-width="0.9"/>
<rect x="193.6" y="314.6" width="64.2" height="83.2" rx="6" fill="none" stroke="#333" stroke-width="0.9"/>
<line x1="197.4" y1="306.8" x2="197.4" y2="314.6" stroke="#333" stroke-width="0.8" />
<line x1="253.8" y1="306.8" x2="253.8" y2="314.6" stroke="#333" stroke-width="0.8" />
<line x1="198" y1="397.8" x2="198" y2="405.9" stroke="#333" stroke-width="0.8" />
<line x1="253.7" y1="397.8" x2="253.7" y2="405.9" stroke="#333" stroke-width="0.8" />
<line x1="186.2" y1="317.5" x2="193.6" y2="317.5" stroke="#444" stroke-width="0.7" />
<line x1="257.8" y1="317.5" x2="265.3" y2="317.5" stroke="#444" stroke-width="0.7" />
<line x1="186.2" y1="394.4" x2="193.6" y2="394.4" stroke="#444" stroke-width="0.7" />
<line x1="257.8" y1="394.4" x2="265.3" y2="394.4" stroke="#444" stroke-width="0.7" />
<circle cx="225.6" cy="330.4" r="12.0" fill="none" stroke="#aaa" stroke-width="3.8"/>
<circle cx="225.6" cy="330.4" r="14.1" fill="none" stroke="#444" stroke-width="0.8"/>
<circle cx="225.6" cy="330.4" r="12.2" fill="none" stroke="#666" stroke-width="0.5"/>
<circle cx="225.6" cy="330.4" r="10.0" fill="#fff" stroke="#111" stroke-width="1.2"/>
<line x1="225.6" y1="314" x2="225.6" y2="347" stroke="#555" stroke-width="0.6" />
<line x1="193.6" y1="330.4" x2="257.8" y2="330.4" stroke="#555" stroke-width="0.6" />
<path d="M193.6 330.4 L203.5 330.4 L203.5 337.7 L185 337.7" fill="none" stroke="#444" stroke-width="0.8" />
<path d="M243 330.4 L248.6 330.4 L248.6 346.1 L262 346.1" fill="none" stroke="#444" stroke-width="0.8" />
<path d="M292.58 380.82 L290.91 382.19 L289.01 383.21 L286.95 383.83 L284.8 384.04 L282.65 383.83 L280.59 383.21 L278.69 382.19 L277.02 380.82 L275.65 379.15 L274.64 377.25 L274.01 375.19 L273.8 373.04 L273.8 339.27 L273.81 338.94 L273.84 338.62 L273.9 338.3 L273.97 337.98 L274.07 337.66 L274.18 337.36 L274.32 337.06 L274.47 336.77 L274.64 336.49 L274.83 336.23 L275.04 335.97 L275.26 335.74 L295.72 315.28 L296.8 314.33 L298 313.53 L299.29 312.89 L300.65 312.43 L302.06 312.15 L303.5 312.06 L304.94 312.15 L306.35 312.43 L307.71 312.89 L309 313.53 L310.2 314.33 L311.28 315.28 L329.75 333.75 L330.35 334.44 L330.86 335.2 L331.27 336.02 L331.56 336.89 L331.74 337.79 L331.8 338.7 L331.74 339.61 L331.56 340.51 L331.27 341.38 L330.86 342.2 L330.35 342.96 L329.75 343.65 Z" fill="#fff" stroke="#111" stroke-width="1.4" />
<path d="M290.47 378.69 L289.24 379.7 L287.86 380.43 L286.36 380.89 L284.8 381.04 L283.24 380.89 L281.74 380.43 L280.36 379.7 L279.14 378.7 L278.15 377.49 L277.41 376.11 L276.95 374.6 L276.8 373.03 L276.8 339.27 L276.8 339.14 L276.82 339.01 L276.84 338.88 L276.87 338.75 L276.91 338.63 L276.95 338.51 L277.01 338.39 L277.07 338.27 L277.14 338.16 L277.21 338.05 L277.3 337.95 L277.39 337.86 L297.84 317.41 L298.63 316.71 L299.5 316.13 L300.44 315.67 L301.43 315.33 L302.46 315.12 L303.5 315.06 L304.54 315.12 L305.57 315.33 L306.56 315.67 L307.5 316.13 L308.37 316.71 L309.16 317.41 L327.62 335.87 L327.97 336.26 L328.26 336.7 L328.5 337.17 L328.66 337.66 L328.77 338.18 L328.8 338.7 L328.77 339.22 L328.66 339.74 L328.5 340.23 L328.26 340.7 L327.97 341.14 L327.63 341.53 Z" fill="none" stroke="#333" stroke-width="0.9" />
<path d="M287.79 375.99 L287.13 376.54 L286.41 376.92 L285.62 377.16 L284.8 377.24 L283.98 377.16 L283.19 376.92 L282.47 376.54 L281.83 376.01 L281.31 375.38 L280.92 374.65 L280.68 373.86 L280.6 373 L280.6 339.27 L280.6 339.39 L280.58 339.51 L280.57 339.62 L280.54 339.74 L280.5 339.85 L280.46 339.96 L280.41 340.07 L280.36 340.17 L280.3 340.27 L280.23 340.37 L280.15 340.46 L280.07 340.54 L300.52 320.1 L300.94 319.72 L301.4 319.42 L301.89 319.18 L302.41 319 L302.95 318.89 L303.5 318.86 L304.05 318.89 L304.59 319 L305.11 319.18 L305.6 319.42 L306.06 319.72 L306.49 320.1 L324.93 338.55 L324.96 338.58 L324.97 338.6 L324.99 338.62 L324.99 338.65 L325 338.67 L325 338.7 L325 338.73 L324.99 338.75 L324.99 338.78 L324.97 338.8 L324.96 338.82 L324.94 338.85 Z" fill="none" stroke="#333" stroke-width="0.9" />
<line x1="290.47" y1="378.69" x2="287.79" y2="375.99" stroke="#333" stroke-width="0.8" />
<line x1="276.8" y1="373.03" x2="280.6" y2="373" stroke="#333" stroke-width="0.8" />
<line x1="276.8" y1="339.27" x2="280.6" y2="339.27" stroke="#333" stroke-width="0.8" />
<line x1="277.39" y1="337.86" x2="280.07" y2="340.54" stroke="#333" stroke-width="0.8" />
<line x1="297.84" y1="317.41" x2="300.52" y2="320.1" stroke="#333" stroke-width="0.8" />
<line x1="309.16" y1="317.41" x2="306.49" y2="320.1" stroke="#333" stroke-width="0.8" />
<line x1="327.62" y1="335.87" x2="324.93" y2="338.55" stroke="#333" stroke-width="0.8" />
<line x1="327.63" y1="341.53" x2="324.94" y2="338.85" stroke="#333" stroke-width="0.8" />
<circle cx="297.6" cy="346.1" r="12.5" fill="none" stroke="#aaa" stroke-width="3.4"/>
<circle cx="297.6" cy="346.1" r="14.2" fill="none" stroke="#555" stroke-width="0.8"/>
<circle cx="297.6" cy="346.1" r="12.6" fill="none" stroke="#777" stroke-width="0.5"/>
<circle cx="297.6" cy="346.1" r="10.8" fill="#fff" stroke="#111" stroke-width="1.2"/>
<line x1="297.6" y1="331" x2="297.6" y2="361" stroke="#555" stroke-width="0.6" />
<line x1="262" y1="346.1" x2="315" y2="346.1" stroke="#555" stroke-width="0.6" />
<path d="M315 346.1 L315 338 L350 338" fill="none" stroke="#555" stroke-width="0.7" stroke-dasharray="6 2"/>
<circle cx="274.2" cy="300.6" r="3.4" fill="#fff" stroke="#333" stroke-width="0.9"/>
<line x1="84" y1="337.6" x2="186" y2="337.6" stroke="#777" stroke-width="0.9" stroke-dasharray="10 3 2 3"/>
<line x1="73.5" y1="277.45" x2="200" y2="277.45" stroke="#555" stroke-width="0.8" />
<line x1="73" y1="416.3" x2="160" y2="416.3" stroke="#555" stroke-width="0.8" />
<line x1="74.6" y1="277.45" x2="74.6" y2="416.3" stroke="#555" stroke-width="0.8" />
<polygon points="74.6,277.9 75.65,283.9 73.55,283.9" fill="#333" stroke="#333" stroke-width="0.3" />
<polygon points="74.6,415.9 73.55,409.9 75.65,409.9" fill="#333" stroke="#333" stroke-width="0.3" />
<text x="72.4" y="348.4" font-size="10.5" fill="#1a1a1a" text-anchor="middle" font-family='"Liberation Sans", sans-serif' textLength="16" lengthAdjust="spacingAndGlyphs" transform="rotate(-90 72.4 348.4)" stroke="#1a1a1a" stroke-width="0.25">560</text>
<line x1="89.6" y1="340" x2="89.6" y2="432" stroke="#555" stroke-width="0.8" />
<line x1="342.3" y1="338" x2="342.3" y2="432" stroke="#555" stroke-width="0.8" />
<line x1="89.6" y1="430.2" x2="342.3" y2="430.2" stroke="#555" stroke-width="0.8" />
<polygon points="90,430.2 96,429.15 96,431.25" fill="#333" stroke="#333" stroke-width="0.3" />
<polygon points="341.9,430.2 335.9,431.25 335.9,429.15" fill="#333" stroke="#333" stroke-width="0.3" />
<text x="213.5" y="427.9" font-size="10.5" fill="#1a1a1a" text-anchor="middle" font-family='"Liberation Sans", sans-serif' textLength="21" lengthAdjust="spacingAndGlyphs" stroke="#1a1a1a" stroke-width="0.25">1039</text>
<line x1="185.75" y1="264.8" x2="185.75" y2="307" stroke="#555" stroke-width="0.8" />
<line x1="265.25" y1="264.8" x2="265.25" y2="307" stroke="#555" stroke-width="0.8" />
<line x1="185.75" y1="266" x2="265.25" y2="266" stroke="#555" stroke-width="0.8" />
<polygon points="186.2,266 192.2,264.95 192.2,267.05" fill="#333" stroke="#333" stroke-width="0.3" />
<polygon points="264.8,266 258.8,267.05 258.8,264.95" fill="#333" stroke="#333" stroke-width="0.3" />
<text x="223.4" y="263.9" font-size="10.5" fill="#1a1a1a" text-anchor="middle" font-family='"Liberation Sans", sans-serif' textLength="16" lengthAdjust="spacingAndGlyphs" stroke="#1a1a1a" stroke-width="0.3">327</text>
<line x1="272.3" y1="264.8" x2="272.3" y2="338" stroke="#555" stroke-width="0.8" />
<line x1="332.7" y1="264.8" x2="332.7" y2="322" stroke="#555" stroke-width="0.8" />
<line x1="272.3" y1="266" x2="332.7" y2="266" stroke="#555" stroke-width="0.8" />
<polygon points="272.7,266 278.7,264.95 278.7,267.05" fill="#333" stroke="#333" stroke-width="0.3" />
<polygon points="332.3,266 326.3,267.05 326.3,264.95" fill="#333" stroke="#333" stroke-width="0.3" />
<text x="300.2" y="263.9" font-size="10.5" fill="#1a1a1a" text-anchor="middle" font-family='"Liberation Sans", sans-serif' textLength="16" lengthAdjust="spacingAndGlyphs" stroke="#1a1a1a" stroke-width="0.3">245</text>
<line x1="258" y1="306.7" x2="382" y2="306.7" stroke="#555" stroke-width="0.8" />
<line x1="266" y1="405.4" x2="382" y2="405.4" stroke="#555" stroke-width="0.8" />
<line x1="379.6" y1="306.7" x2="379.6" y2="405.2" stroke="#555" stroke-width="0.8" />
<polygon points="379.6,307.1 380.65,313.1 378.55,313.1" fill="#333" stroke="#333" stroke-width="0.3" />
<polygon points="379.6,404.8 378.55,398.8 380.65,398.8" fill="#333" stroke="#333" stroke-width="0.3" />
<text x="376.5" y="358.8" font-size="10.5" fill="#1a1a1a" text-anchor="middle" font-family='"Liberation Sans", sans-serif' textLength="16" lengthAdjust="spacingAndGlyphs" transform="rotate(-90 376.5 358.8)" stroke="#1a1a1a" stroke-width="0.25">405</text>
<line x1="330" y1="311.3" x2="365" y2="311.3" stroke="#555" stroke-width="0.8" />
<line x1="306" y1="384.7" x2="365" y2="384.7" stroke="#555" stroke-width="0.8" />
<line x1="362.3" y1="311.3" x2="362.3" y2="384.7" stroke="#555" stroke-width="0.8" />
<polygon points="362.3,311.7 363.35,317.7 361.25,317.7" fill="#333" stroke="#333" stroke-width="0.3" />
<polygon points="362.3,384.3 361.25,378.3 363.35,378.3" fill="#333" stroke="#333" stroke-width="0.3" />
<text x="359.6" y="346" font-size="10.5" fill="#1a1a1a" text-anchor="middle" font-family='"Liberation Sans", sans-serif' textLength="16" lengthAdjust="spacingAndGlyphs" transform="rotate(-90 359.6 346)" stroke="#1a1a1a" stroke-width="0.25">300</text>
<line x1="79.3" y1="153.3" x2="90" y2="153.3" stroke="#555" stroke-width="0.8" />
<line x1="79.3" y1="198.4" x2="188" y2="198.4" stroke="#555" stroke-width="0.8" />
<line x1="80" y1="153.3" x2="80" y2="198.4" stroke="#555" stroke-width="0.8" />
<polygon points="80,153.7 81.05,159.7 78.95,159.7" fill="#333" stroke="#333" stroke-width="0.3" />
<polygon points="80,198 78.95,192 81.05,192" fill="#333" stroke="#333" stroke-width="0.3" />
<text x="78.3" y="173.3" font-size="10.5" fill="#444" text-anchor="middle" font-family='"Liberation Serif", serif' textLength="14.5" lengthAdjust="spacingAndGlyphs" transform="rotate(-90 78.3 173.3)">185</text>
<line x1="333" y1="153.5" x2="357.5" y2="153.5" stroke="#555" stroke-width="0.8" />
<line x1="330" y1="189.7" x2="357.5" y2="189.7" stroke="#555" stroke-width="0.8" />
<line x1="355.8" y1="153.5" x2="355.8" y2="189.7" stroke="#555" stroke-width="0.8" />
<polygon points="355.8,153.9 356.85,159.9 354.75,159.9" fill="#333" stroke="#333" stroke-width="0.3" />
<polygon points="355.8,189.3 354.75,183.3 356.85,183.3" fill="#333" stroke="#333" stroke-width="0.3" />
<text x="354.2" y="170.8" font-size="10.5" fill="#444" text-anchor="middle" font-family='"Liberation Serif", serif' textLength="14.5" lengthAdjust="spacingAndGlyphs" transform="rotate(-90 354.2 170.8)">150</text>
<line x1="92" y1="153.2" x2="336" y2="153.2" stroke="#111" stroke-width="1.1" />
<line x1="97" y1="154.7" x2="334" y2="154.7" stroke="#666" stroke-width="0.7" />
<line x1="100" y1="156.7" x2="333" y2="156.7" stroke="#1a1a1a" stroke-width="1.7" />
<line x1="99" y1="158.5" x2="170" y2="158.5" stroke="#444" stroke-width="0.7" />
<line x1="106" y1="157" x2="106" y2="159" stroke="#222" stroke-width="0.9" />
<line x1="117.4" y1="157" x2="117.4" y2="159" stroke="#222" stroke-width="0.9" />
<line x1="128.6" y1="157" x2="128.6" y2="159" stroke="#222" stroke-width="0.9" />
<line x1="140" y1="157" x2="140" y2="159" stroke="#222" stroke-width="0.9" />
<line x1="151.5" y1="157" x2="151.5" y2="159" stroke="#222" stroke-width="0.9" />
<line x1="163" y1="157" x2="163" y2="159" stroke="#222" stroke-width="0.9" />
<path d="M89.2 155.6 L92 153.4 L96 153.5 L100 157 L98.5 160 L93 157.6 Z" fill="#fff" stroke="#111" stroke-width="0.9" />
<path d="M92.5 154.6 L96 157.2" fill="none" stroke="#333" stroke-width="0.7" />
<path d="M98.8 160.2 L139.5 160.2 L152.3 163.9 L172.5 163.9 L183.8 170.3" fill="none" stroke="#111" stroke-width="1.1" />
<path d="M140 159.4 L170.3 159.4 L178.5 164" fill="none" stroke="#333" stroke-width="0.8" />
<path d="M139 158.2 L151 162.3 L171 162.3" fill="none" stroke="#666" stroke-width="0.6" />
<path d="M171.3 158 L178.5 164 L183.5 157.6" fill="none" stroke="#333" stroke-width="0.7" />
<path d="M183.8 157.2 L186.3 193 Q187.3 197.5 193.5 198.2 L257.5 198.2 Q262.5 197.6 263.3 192 L266.6 157.2" fill="none" stroke="#111" stroke-width="1" />
<path d="M186.9 157.5 L189.3 191.5 Q190.5 193.6 194.5 193.7 L257 193.7 Q260.6 193.4 261 190 L263.6 157.5" fill="none" stroke="#333" stroke-width="0.8" />
<line x1="197.3" y1="157.2" x2="197.3" y2="198" stroke="#444" stroke-width="0.8" />
<line x1="254.2" y1="157.2" x2="254.2" y2="198" stroke="#444" stroke-width="0.8" />
<line x1="184.7" y1="174" x2="185.6" y2="186" stroke="#555" stroke-width="0.6" />
<line x1="193.5" y1="206.1" x2="257.6" y2="206.1" stroke="#111" stroke-width="1" />
<circle cx="198.6" cy="202.3" r="4.1" fill="none" stroke="#555" stroke-width="0.75"/>
<circle cx="209.8" cy="202.3" r="4.1" fill="none" stroke="#555" stroke-width="0.75"/>
<circle cx="241.9" cy="202.3" r="4.1" fill="none" stroke="#555" stroke-width="0.75"/>
<circle cx="253.1" cy="202.3" r="4.1" fill="none" stroke="#555" stroke-width="0.75"/>
<line x1="201.7" y1="198.4" x2="206.7" y2="206" stroke="#333" stroke-width="0.7" />
<line x1="206.7" y1="198.4" x2="201.7" y2="206" stroke="#333" stroke-width="0.7" />
<line x1="245" y1="198.4" x2="250" y2="206" stroke="#333" stroke-width="0.7" />
<line x1="250" y1="198.4" x2="245" y2="206" stroke="#333" stroke-width="0.7" />
<line x1="193.5" y1="198.4" x2="193.5" y2="206.1" stroke="#333" stroke-width="0.8" />
<line x1="257.6" y1="198.4" x2="257.6" y2="206.1" stroke="#333" stroke-width="0.8" />
<line x1="214.9" y1="198.4" x2="214.9" y2="206.1" stroke="#333" stroke-width="0.8" />
<line x1="235.7" y1="198.4" x2="235.7" y2="206.1" stroke="#333" stroke-width="0.8" />
<line x1="214.9" y1="199.4" x2="235.7" y2="199.4" stroke="#222" stroke-width="1.4" />
<path d="M266.6 157.2 Q268.5 156.5 270.2 157.4 L273 157.5 Q274 157.6 274.5 158.5" fill="none" stroke="#111" stroke-width="0.9" />
<path d="M263.6 192 L266.5 162 Q267.6 159 269.5 159 Q271.5 159 272 162 L273.8 184" fill="none" stroke="#444" stroke-width="0.7" />
<path d="M272.5 157.3 L275 186 Q276.3 190.2 283 190.4 L285 190.4 L285 195.2 L310 195.2 L310 190.4 L325 190.4 Q331.5 190 332 185 L333.6 157.3" fill="none" stroke="#111" stroke-width="1" />
<path d="M276.6 158 L278.5 183.5 Q279.5 186 284 186 L324.5 186 Q328.5 186 329 182.5 L330.6 158" fill="none" stroke="#333" stroke-width="0.8" />
<path d="M296.5 157.5 L298.6 184.5 Q299.6 188.3 303.5 188.3 Q307.4 188.3 308.3 184.5 L310.5 157.5" fill="none" stroke="#444" stroke-width="0.7" />
<line x1="279" y1="188.6" x2="328.5" y2="188.6" stroke="#333" stroke-width="0.8" />
<line x1="285" y1="192.2" x2="310" y2="192.2" stroke="#333" stroke-width="1.2" />
<path d="M333.6 157.3 L335 153.4 L339.5 154 L342 155.7 L340.5 158.5 L336.5 158 Z" fill="#fff" stroke="#111" stroke-width="0.9" />
</svg>
</body></html>
